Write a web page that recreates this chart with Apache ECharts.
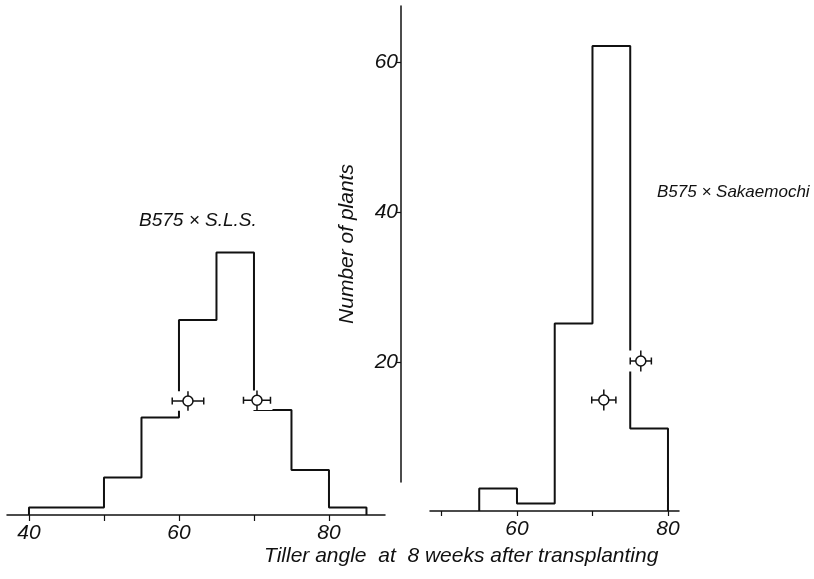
<!DOCTYPE html>
<html>
<head>
<meta charset="utf-8">
<script src="https://cdn.jsdelivr.net/npm/echarts@6/dist/echarts.min.js"></script>
<style>
  html, body { margin: 0; padding: 0; background: #fff; }
  #chart { width: 814px; height: 579px; }
</style>
</head>
<body>
<div id="chart"></div>
<script>
// B575 x S.L.S. (左)
const slsEdges = [40, 45, 50, 55, 60, 65, 70, 75, 80, 85];
const slsCounts = [1, 1, 5, 13, 26, 35, 14, 6, 1];
// 平均値 [x, y, x誤差, y誤差]
const slsMeans = [[61.2, 15.2, 2.1, 1.3], [70.4, 15.3, 1.8, 1.3]];

// B575 x Sakaemochi (右)
const sakEdges = [55, 60, 65, 70, 75, 80];
const sakCounts = [3, 1, 25, 62, 11];
const sakMeans = [[71.5, 14.8, 1.6, 1.4], [76.4, 20.0, 1.4, 1.4]];

const slsTicks = [40, 50, 60, 70, 80];
const slsLabels = [40, 60, 80];
const sakTicks = [50, 60, 70, 80];
const sakLabels = [60, 80];
const yTicks = [20, 40, 60];

const FONT = "Liberation Sans";
const INK = "#111";

// ヒストグラムの階段
function steps(edges, counts) {
  const pts = [[edges[0], 0]];
  counts.forEach((c, i) => {
    pts.push([edges[i], c], [edges[i + 1], c]);
  });
  pts.push([edges[edges.length - 1], 0]);
  return pts;
}

// 平均値マーカー（白抜き丸 + 誤差棒）
function meanMark(params, api) {
  const x = api.value(0), y = api.value(1), xe = api.value(2), ye = api.value(3);
  const c = api.coord([x, y]);
  const l = api.coord([x - xe, y]);
  const r = api.coord([x + xe, y]);
  const t = api.coord([x, y + ye]);
  const b = api.coord([x, y - ye]);
  const st = { stroke: INK, lineWidth: 1.5, fill: null };
  return {
    type: "group",
    children: [
      { type: "rect", shape: { x: l[0] - 2, y: t[1], width: r[0] - l[0] + 4, height: b[1] - t[1] }, style: { fill: "#fff" } },
      { type: "line", shape: { x1: l[0], y1: c[1], x2: r[0], y2: c[1] }, style: st },
      { type: "line", shape: { x1: l[0], y1: c[1] - 3.5, x2: l[0], y2: c[1] + 3.5 }, style: st },
      { type: "line", shape: { x1: r[0], y1: c[1] - 3.5, x2: r[0], y2: c[1] + 3.5 }, style: st },
      { type: "line", shape: { x1: c[0], y1: t[1], x2: c[0], y2: b[1] }, style: st },
      { type: "circle", shape: { cx: c[0], cy: c[1], r: 5 }, style: { fill: "#fff", stroke: INK, lineWidth: 1.5 } },
    ],
  };
}

const axisText = { fontFamily: FONT, fontStyle: "italic", fontSize: 21, color: INK };
const titleText = { fontFamily: FONT, fontStyle: "italic", fontWeight: "normal", color: INK };

const chart = echarts.init(document.getElementById("chart"), null, { renderer: "canvas" });
chart.setOption({
  animation: false,
  backgroundColor: "#fff",
  title: [
    { text: "B575 × S.L.S.", left: 134, top: 206, textStyle: { ...titleText, fontSize: 19 } },
    { text: "B575 × Sakaemochi", left: 652, top: 179, textStyle: { ...titleText, fontSize: 17 } },
    { text: "Tiller angle  at  8 weeks after transplanting", left: 259, top: 541, textStyle: { ...titleText, fontSize: 21 } },
  ],
  grid: [
    { left: 7, width: 378, top: 65, height: 450 },
    { left: 430, width: 249, top: 1, height: 510 },
    { left: 401, width: 10, top: 6, height: 476 },
  ],
  xAxis: [
    {
      gridIndex: 0, type: "value", min: 37.07, max: 87.47,
      splitLine: { show: false },
      axisLine: { lineStyle: { color: INK, width: 1.5 } },
      axisTick: { customValues: slsTicks, length: 6, lineStyle: { color: INK, width: 1.2 } },
      axisLabel: { customValues: slsLabels, margin: 8, ...axisText },
    },
    {
      gridIndex: 1, type: "value", min: 48.48, max: 81.46,
      splitLine: { show: false },
      axisLine: { lineStyle: { color: INK, width: 1.5 } },
      axisTick: { customValues: sakTicks, length: 5, lineStyle: { color: INK, width: 1.2 } },
      axisLabel: { customValues: sakLabels, margin: 8, ...axisText },
    },
    { gridIndex: 2, type: "value", show: false },
  ],
  yAxis: [
    { gridIndex: 0, type: "value", min: 0, max: 60, show: false },
    { gridIndex: 1, type: "value", min: 0, max: 68, show: false },
    {
      gridIndex: 2, type: "value", min: 4, max: 67.47,
      splitLine: { show: false },
      axisLine: { show: true, lineStyle: { color: INK, width: 1.5 } },
      axisTick: { customValues: yTicks, length: 4, lineStyle: { color: INK, width: 1.2 } },
      axisLabel: { customValues: yTicks, margin: 3, ...axisText },
      name: "Number of plants",
      nameLocation: "middle",
      nameRotate: 90,
      nameGap: 43,
      nameTextStyle: { fontFamily: FONT, fontStyle: "italic", fontSize: 21, color: INK },
    },
  ],
  series: [
    {
      type: "line", xAxisIndex: 0, yAxisIndex: 0, data: steps(slsEdges, slsCounts),
      showSymbol: false, lineStyle: { color: INK, width: 2 }, z: 2,
    },
    {
      type: "line", xAxisIndex: 1, yAxisIndex: 1, data: steps(sakEdges, sakCounts),
      showSymbol: false, lineStyle: { color: INK, width: 2 }, z: 2,
    },
    { type: "custom", xAxisIndex: 0, yAxisIndex: 0, data: slsMeans, renderItem: meanMark, clip: false, z: 5 },
    { type: "custom", xAxisIndex: 1, yAxisIndex: 1, data: sakMeans, renderItem: meanMark, clip: false, z: 5 },
  ],
});
</script>
</body>
</html>
